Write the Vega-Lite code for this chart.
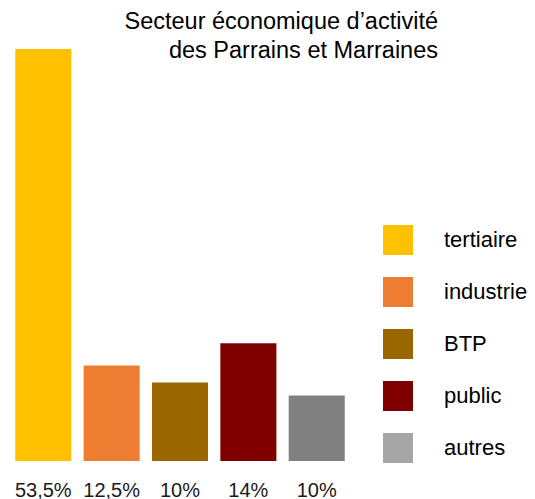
{
  "$schema": "https://vega.github.io/schema/vega-lite/v6.json",
  "width": 350,
  "height": 412,
  "autosize": "none",
  "padding": {"left": 5, "top": 49, "right": 180, "bottom": 38},
  "background": "#ffffff",
  "title": {
    "text": ["Secteur économique d’activité", "des Parrains et Marraines"],
    "frame": "group",
    "anchor": "start",
    "align": "right",
    "baseline": "alphabetic",
    "dx": 433,
    "offset": -32,
    "fontSize": 23.5,
    "lineHeight": 29,
    "font": "Liberation Sans",
    "fontWeight": "normal",
    "color": "#000000"
  },
  "data": {
    "values": [
      {"secteur": "tertiaire", "hauteur": 53.5, "libelle": "53,5%"},
      {"secteur": "industrie", "hauteur": 12.4, "libelle": "12,5%"},
      {"secteur": "BTP", "hauteur": 10.2, "libelle": "10%"},
      {"secteur": "public", "hauteur": 15.3, "libelle": "14%"},
      {"secteur": "autres", "hauteur": 8.5, "libelle": "10%"}
    ]
  },
  "layer": [
    {
      "mark": {"type": "bar"},
      "encoding": {
        "x": {
          "field": "secteur",
          "type": "nominal",
          "sort": null,
          "scale": {"paddingInner": 0.18, "paddingOuter": 0.15},
          "axis": null
        },
        "y": {
          "field": "hauteur",
          "type": "quantitative",
          "scale": {"domain": [0, 53.5], "nice": false},
          "axis": null
        },
        "color": {
          "condition": {"test": "datum.secteur === 'autres'", "value": "#808080"},
          "field": "secteur",
          "type": "nominal",
          "sort": null,
          "scale": {
            "domain": ["tertiaire", "industrie", "BTP", "public", "autres"],
            "range": ["#FFC000", "#ED7D31", "#996600", "#800000", "#A6A6A6"]
          },
          "legend": {
            "title": null,
            "orient": "none",
            "legendX": 378,
            "legendY": 176,
            "symbolType": "square",
            "symbolSize": 900,
            "symbolStrokeWidth": 0,
            "symbolOpacity": 1,
            "labelFontSize": 22,
            "labelFont": "Liberation Sans",
            "labelColor": "#000000",
            "labelOffset": 31,
            "rowPadding": 22,
            "padding": 0
          }
        }
      }
    },
    {
      "mark": {
        "type": "text",
        "baseline": "alphabetic",
        "dy": 36,
        "fontSize": 20,
        "font": "Liberation Sans",
        "color": "#1a1a1a"
      },
      "encoding": {
        "x": {"field": "secteur", "type": "nominal", "sort": null},
        "y": {"datum": 0},
        "text": {"field": "libelle"}
      }
    }
  ],
  "config": {"view": {"stroke": null}}
}
